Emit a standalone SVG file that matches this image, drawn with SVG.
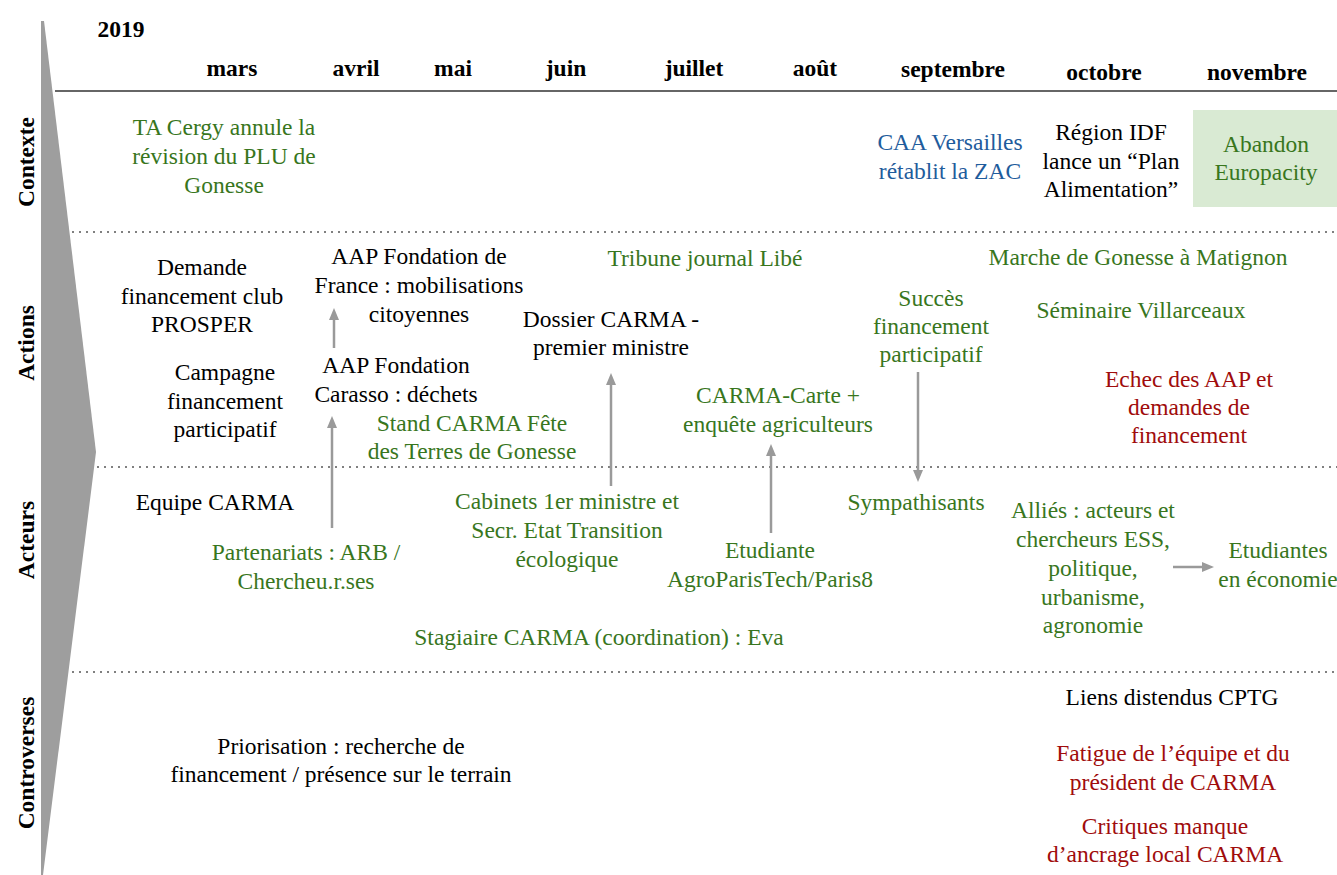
<svg xmlns="http://www.w3.org/2000/svg" width="1337" height="875" viewBox="0 0 1337 875">
<defs>
<style>
.g{fill:#38761d}
.b{fill:#1f5c9c}
.r{fill:#a00c0c}
.k{fill:#000}
.dot{stroke:#808080;stroke-width:2;stroke-dasharray:2 5;fill:none}
</style>
<marker id="ah" viewBox="0 0 12 10" refX="1" refY="5" markerWidth="12" markerHeight="10" markerUnits="userSpaceOnUse" orient="auto">
<path d="M0,0 L12,5 L0,10 z" fill="#9a9a9a"/>
</marker>
</defs>
<rect width="1337" height="875" fill="#fff"/>

<g id="frame">
<polygon points="41,21 44,21 96,452 43,875 41,875" fill="#9e9e9e"/>
<line x1="55" y1="91" x2="1337" y2="91" stroke="#666" stroke-width="2"/>
<line class="dot" x1="72" y1="232" x2="1337" y2="232"/>
<line class="dot" x1="97" y1="467" x2="1337" y2="467"/>
<line class="dot" x1="72" y1="672" x2="1337" y2="672"/>
</g>

<g id="header" font-family="Times New Roman, Liberation Serif, serif" font-weight="bold" font-size="23.5" text-anchor="middle">
<text x="121" y="37">2019</text>
<text x="232" y="76">mars</text>
<text x="356" y="76">avril</text>
<text x="453" y="76">mai</text>
<text x="566" y="76">juin</text>
<text x="694" y="76">juillet</text>
<text x="815" y="76">août</text>
<text x="953" y="77">septembre</text>
<text x="1104" y="80">octobre</text>
<text x="1257" y="80">novembre</text>
</g>

<g id="row-labels" font-family="Times New Roman, Liberation Serif, serif" font-weight="bold" font-size="23.5" text-anchor="middle">
<text transform="translate(34,162) rotate(-90)">Contexte</text>
<text transform="translate(34,343) rotate(-90)">Actions</text>
<text transform="translate(34,540) rotate(-90)">Acteurs</text>
<text transform="translate(34,763) rotate(-90)">Controverses</text>
</g>

<g id="nodes" font-family="Times New Roman, Liberation Serif, serif" font-size="23.5" font-weight="normal" text-anchor="middle">
<g id="n-ta-cergy"><text class="g"><tspan x="224" y="135">TA Cergy annule la</tspan><tspan x="224" y="164">révision du PLU de</tspan><tspan x="224" y="193">Gonesse</tspan></text></g>
<g id="n-caa"><text class="b"><tspan x="950" y="150">CAA Versailles</tspan><tspan x="950" y="179">rétablit la ZAC</tspan></text></g>
<g id="n-region"><text class="k"><tspan x="1111" y="140">Région IDF</tspan><tspan x="1111" y="169">lance un “Plan</tspan><tspan x="1111" y="197">Alimentation”</tspan></text></g>
<g id="n-abandon"><rect x="1193" y="110" width="144" height="97" fill="#d9ead3"/><text class="g"><tspan x="1266" y="152">Abandon</tspan><tspan x="1266" y="180">Europacity</tspan></text></g>

<g id="n-demande"><text class="k"><tspan x="202" y="275">Demande</tspan><tspan x="202" y="304">financement club</tspan><tspan x="202" y="332">PROSPER</tspan></text></g>
<g id="n-campagne"><text class="k"><tspan x="225" y="380">Campagne</tspan><tspan x="225" y="409">financement</tspan><tspan x="225" y="437">participatif</tspan></text></g>
<g id="n-aap-fdf"><text class="k"><tspan x="419" y="264">AAP Fondation de</tspan><tspan x="419" y="293">France : mobilisations</tspan><tspan x="419" y="322">citoyennes</tspan></text></g>
<g id="n-aap-carasso"><text class="k"><tspan x="396" y="373">AAP Fondation</tspan><tspan x="396" y="402">Carasso : déchets</tspan></text></g>
<g id="n-stand"><text class="g"><tspan x="472" y="431">Stand CARMA Fête</tspan><tspan x="472" y="459">des Terres de Gonesse</tspan></text></g>
<g id="n-tribune"><text class="g" x="705" y="266">Tribune journal Libé</text></g>
<g id="n-dossier"><text class="k"><tspan x="611" y="327">Dossier CARMA -</tspan><tspan x="611" y="355">premier ministre</tspan></text></g>
<g id="n-carma-carte"><text class="g"><tspan x="778" y="403">CARMA-Carte +</tspan><tspan x="778" y="432">enquête agriculteurs</tspan></text></g>
<g id="n-succes"><text class="g"><tspan x="931" y="306">Succès</tspan><tspan x="931" y="334">financement</tspan><tspan x="931" y="362">participatif</tspan></text></g>
<g id="n-marche"><text class="g" x="1138" y="265">Marche de Gonesse à Matignon</text></g>
<g id="n-seminaire"><text class="g" x="1141" y="318">Séminaire Villarceaux</text></g>
<g id="n-echec"><text class="r"><tspan x="1189" y="387">Echec des AAP et</tspan><tspan x="1189" y="415">demandes de</tspan><tspan x="1189" y="443">financement</tspan></text></g>

<g id="n-equipe"><text class="k" x="215" y="510">Equipe CARMA</text></g>
<g id="n-partenariats"><text class="g"><tspan x="306" y="560">Partenariats : ARB /</tspan><tspan x="306" y="589">Chercheu.r.ses</tspan></text></g>
<g id="n-cabinets"><text class="g"><tspan x="567" y="509">Cabinets 1er ministre et</tspan><tspan x="567" y="538">Secr. Etat Transition</tspan><tspan x="567" y="567">écologique</tspan></text></g>
<g id="n-etudiante"><text class="g"><tspan x="770" y="558">Etudiante</tspan><tspan x="770" y="587">AgroParisTech/Paris8</tspan></text></g>
<g id="n-sympathisants"><text class="g" x="916" y="510">Sympathisants</text></g>
<g id="n-allies"><text class="g"><tspan x="1093" y="518">Alliés : acteurs et</tspan><tspan x="1093" y="547">chercheurs ESS,</tspan><tspan x="1093" y="576">politique,</tspan><tspan x="1093" y="605">urbanisme,</tspan><tspan x="1093" y="633">agronomie</tspan></text></g>
<g id="n-etudiantes"><text class="g"><tspan x="1278" y="558">Etudiantes</tspan><tspan x="1278" y="587">en économie</tspan></text></g>
<g id="n-stagiaire"><text class="g" x="599" y="645">Stagiaire CARMA (coordination) : Eva</text></g>

<g id="n-liens"><text class="k" x="1172" y="705">Liens distendus CPTG</text></g>
<g id="n-priorisation"><text class="k"><tspan x="341" y="754">Priorisation : recherche de</tspan><tspan x="341" y="782">financement / présence sur le terrain</tspan></text></g>
<g id="n-fatigue"><text class="r"><tspan x="1173" y="761">Fatigue de l’équipe et du</tspan><tspan x="1173" y="790">président de CARMA</tspan></text></g>
<g id="n-critiques"><text class="r"><tspan x="1165" y="834">Critiques manque</tspan><tspan x="1165" y="862">d’ancrage local CARMA</tspan></text></g>
</g>

<g id="connectors" stroke="#9a9a9a" stroke-width="2.5" fill="none" marker-end="url(#ah)">
<line x1="334" y1="348" x2="334" y2="319"/>
<line x1="332" y1="528" x2="332" y2="427"/>
<line x1="611" y1="486" x2="611" y2="384"/>
<line x1="771" y1="533" x2="771" y2="455"/>
<line x1="918" y1="372" x2="918" y2="471"/>
<line x1="1173" y1="567" x2="1203" y2="567"/>
</g>
</svg>
